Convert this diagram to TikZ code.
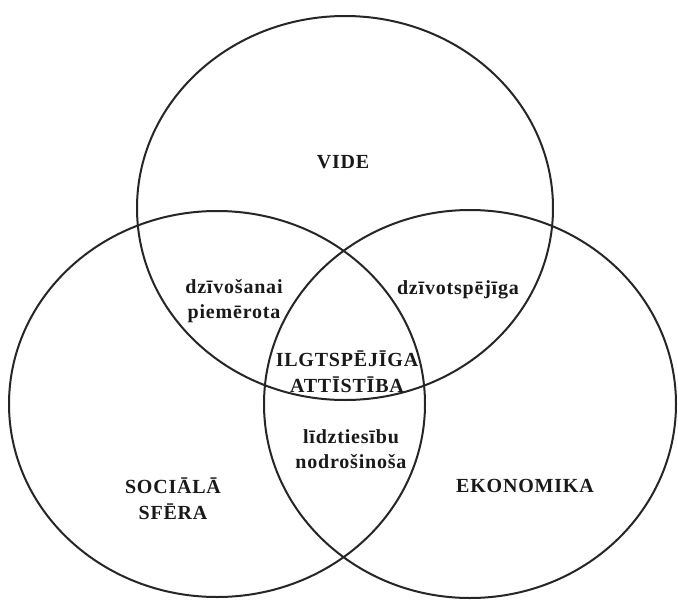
\documentclass[tikz,border=0pt]{standalone}
\usepackage{fontspec}
\setmainfont{Liberation Serif}[LetterSpace=4]
\usetikzlibrary{shapes.geometric}
\begin{document}
\begin{tikzpicture}[x=1pt,y=-1pt,
  ring/.style={ellipse,draw=black!85,line width=2pt,inner sep=0pt},
  lbl/.style={font=\fontsize{20}{25.5}\selectfont\bfseries,align=center,inner sep=0pt,text=black!90}]
\useasboundingbox[fill=white] (0,0) rectangle (678,600);
\node[ring,minimum width=416pt,minimum height=384pt] (vide) at (345,208) {};
\node[ring,minimum width=416pt,minimum height=386pt] (soc) at (217,404) {};
\node[ring,minimum width=412pt,minimum height=388pt] (eko) at (470,404) {};
\node[lbl] (tv) at (343,162) {VIDE};
\node[lbl] (tdp) at (234,301) {dzīvošanai\\piemērota};
\node[lbl] (tdz) at (458,290) {dzīvotspējīga};
\node[lbl] (tia) at (347,372) {ILGTSPĒJĪGA\\ATTĪSTĪBA};
\node[lbl] (tln) at (351,449) {līdztiesību\\nodrošinoša};
\node[lbl] (tss) at (173,499) {SOCIĀLĀ\\SFĒRA};
\node[lbl] (tek) at (525,486) {EKONOMIKA};
\end{tikzpicture}
\end{document}
